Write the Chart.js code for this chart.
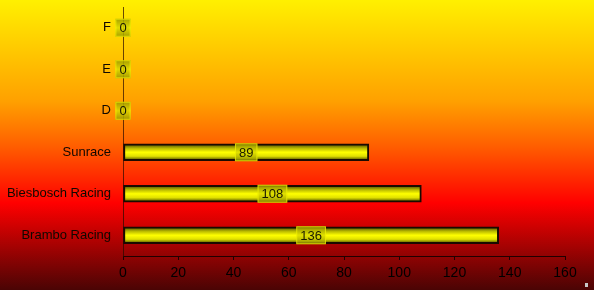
<!DOCTYPE html>
<html>
<head>
<meta charset="utf-8">
<script src="https://cdn.jsdelivr.net/npm/chart.js@4.4.1/dist/chart.umd.min.js"></script>
<style>
  html, body { margin: 0; padding: 0; }
  body {
    width: 594px; height: 290px; overflow: hidden; position: relative;
    background: linear-gradient(to bottom, #fff000 0%, #ffa000 35%, #ff6000 50%, #ff0000 70%, #4a0404 100%);
  }
  #wrap { position: absolute; left: 0; top: 0; width: 594px; height: 290px; }
  #dot { position: absolute; left: 585px; top: 283px; width: 3px; height: 4px; background: #c8c8c8; }
</style>
</head>
<body>
<div id="wrap"><canvas id="chart" width="594" height="290"></canvas></div>
<div id="dot"></div>
<script>
const teams = ['F', 'E', 'D', 'Sunrace', 'Biesbosch Racing', 'Brambo Racing'];
const points = [0, 0, 0, 89, 108, 136];
const xTicks = [0, 20, 40, 60, 80, 100, 120, 140, 160];

const FONT = 'Arial, "Liberation Sans", sans-serif';

function barGradient(ctx) {
  const chart = ctx.chart;
  const y = chart.scales.y;
  if (!y || ctx.dataIndex === undefined) return '#ffff00';
  const cy = y.getPixelForValue(ctx.dataIndex);
  if (!isFinite(cy)) return '#ffff00'; // scales not laid out yet
  const g = chart.ctx.createLinearGradient(0, cy - 8, 0, cy + 8);
  g.addColorStop(0, '#4a4a00');
  g.addColorStop(0.25, '#b8b800');
  g.addColorStop(0.5, '#ffff00');
  g.addColorStop(0.75, '#e0e000');
  g.addColorStop(1, '#4a4a00');
  return g;
}

// value boxes centred on each bar
const valueLabels = {
  id: 'valueLabels',
  afterDatasetsDraw(chart) {
    const ctx = chart.ctx;
    const meta = chart.getDatasetMeta(0);
    ctx.save();
    ctx.font = '13px ' + FONT;
    ctx.textAlign = 'center';
    ctx.textBaseline = 'middle';
    meta.data.forEach((bar, i) => {
      const txt = String(points[i]);
      const cx = (bar.x + bar.base) / 2;
      const w = ctx.measureText(txt).width + 8;
      const h = 18;
      const g = ctx.createLinearGradient(0, bar.y - h / 2, 0, bar.y + h / 2);
      g.addColorStop(0, 'rgba(150,150,0,0.85)');
      g.addColorStop(0.5, 'rgba(220,220,0,0.85)');
      g.addColorStop(1, 'rgba(150,150,0,0.85)');
      ctx.fillStyle = g;
      ctx.fillRect(cx - w / 2, bar.y - h / 2, w, h);
      ctx.strokeStyle = 'rgba(255,255,0,0.6)';
      ctx.lineWidth = 1;
      ctx.strokeRect(cx - w / 2 + 0.5, bar.y - h / 2 + 0.5, w - 1, h - 1);
      ctx.fillStyle = '#1a1a00';
      ctx.fillText(txt, cx, bar.y + 1);
    });
    ctx.restore();
  }
};

new Chart(document.getElementById('chart'), {
  type: 'bar',
  data: {
    labels: teams,
    datasets: [{
      data: points,
      backgroundColor: barGradient,
      borderColor: '#1a0a00',
      borderWidth: 2,
      borderSkipped: false,
      barThickness: 17
    }]
  },
  options: {
    indexAxis: 'y',
    responsive: false,
    animation: false,
    layout: { padding: { top: 7, right: 29, bottom: 0, left: 0 } },
    plugins: { legend: { display: false }, tooltip: { enabled: false } },
    scales: {
      x: {
        min: 0, max: 160,
        afterBuildTicks(scale) { scale.ticks = xTicks.map(v => ({ value: v })); },
        afterFit(scale) { scale.height = 34; scale.paddingLeft = 0; scale.paddingRight = 0; },
        grid: { drawOnChartArea: false, drawTicks: true, tickLength: 4, color: '#200000' },
        border: { color: '#200000', width: 1 },
        ticks: { color: '#000000', font: { size: 14, family: FONT }, padding: 5 }
      },
      y: {
        afterFit(scale) { scale.width = 123; scale.paddingTop = 0; scale.paddingBottom = 0; },
        grid: { display: false, drawTicks: false },
        border: { color: 'rgba(40,10,0,0.7)', width: 1 },
        ticks: { color: '#100800', font: { size: 13, family: FONT }, padding: 12 }
      }
    }
  },
  plugins: [valueLabels]
});
</script>
</body>
</html>
